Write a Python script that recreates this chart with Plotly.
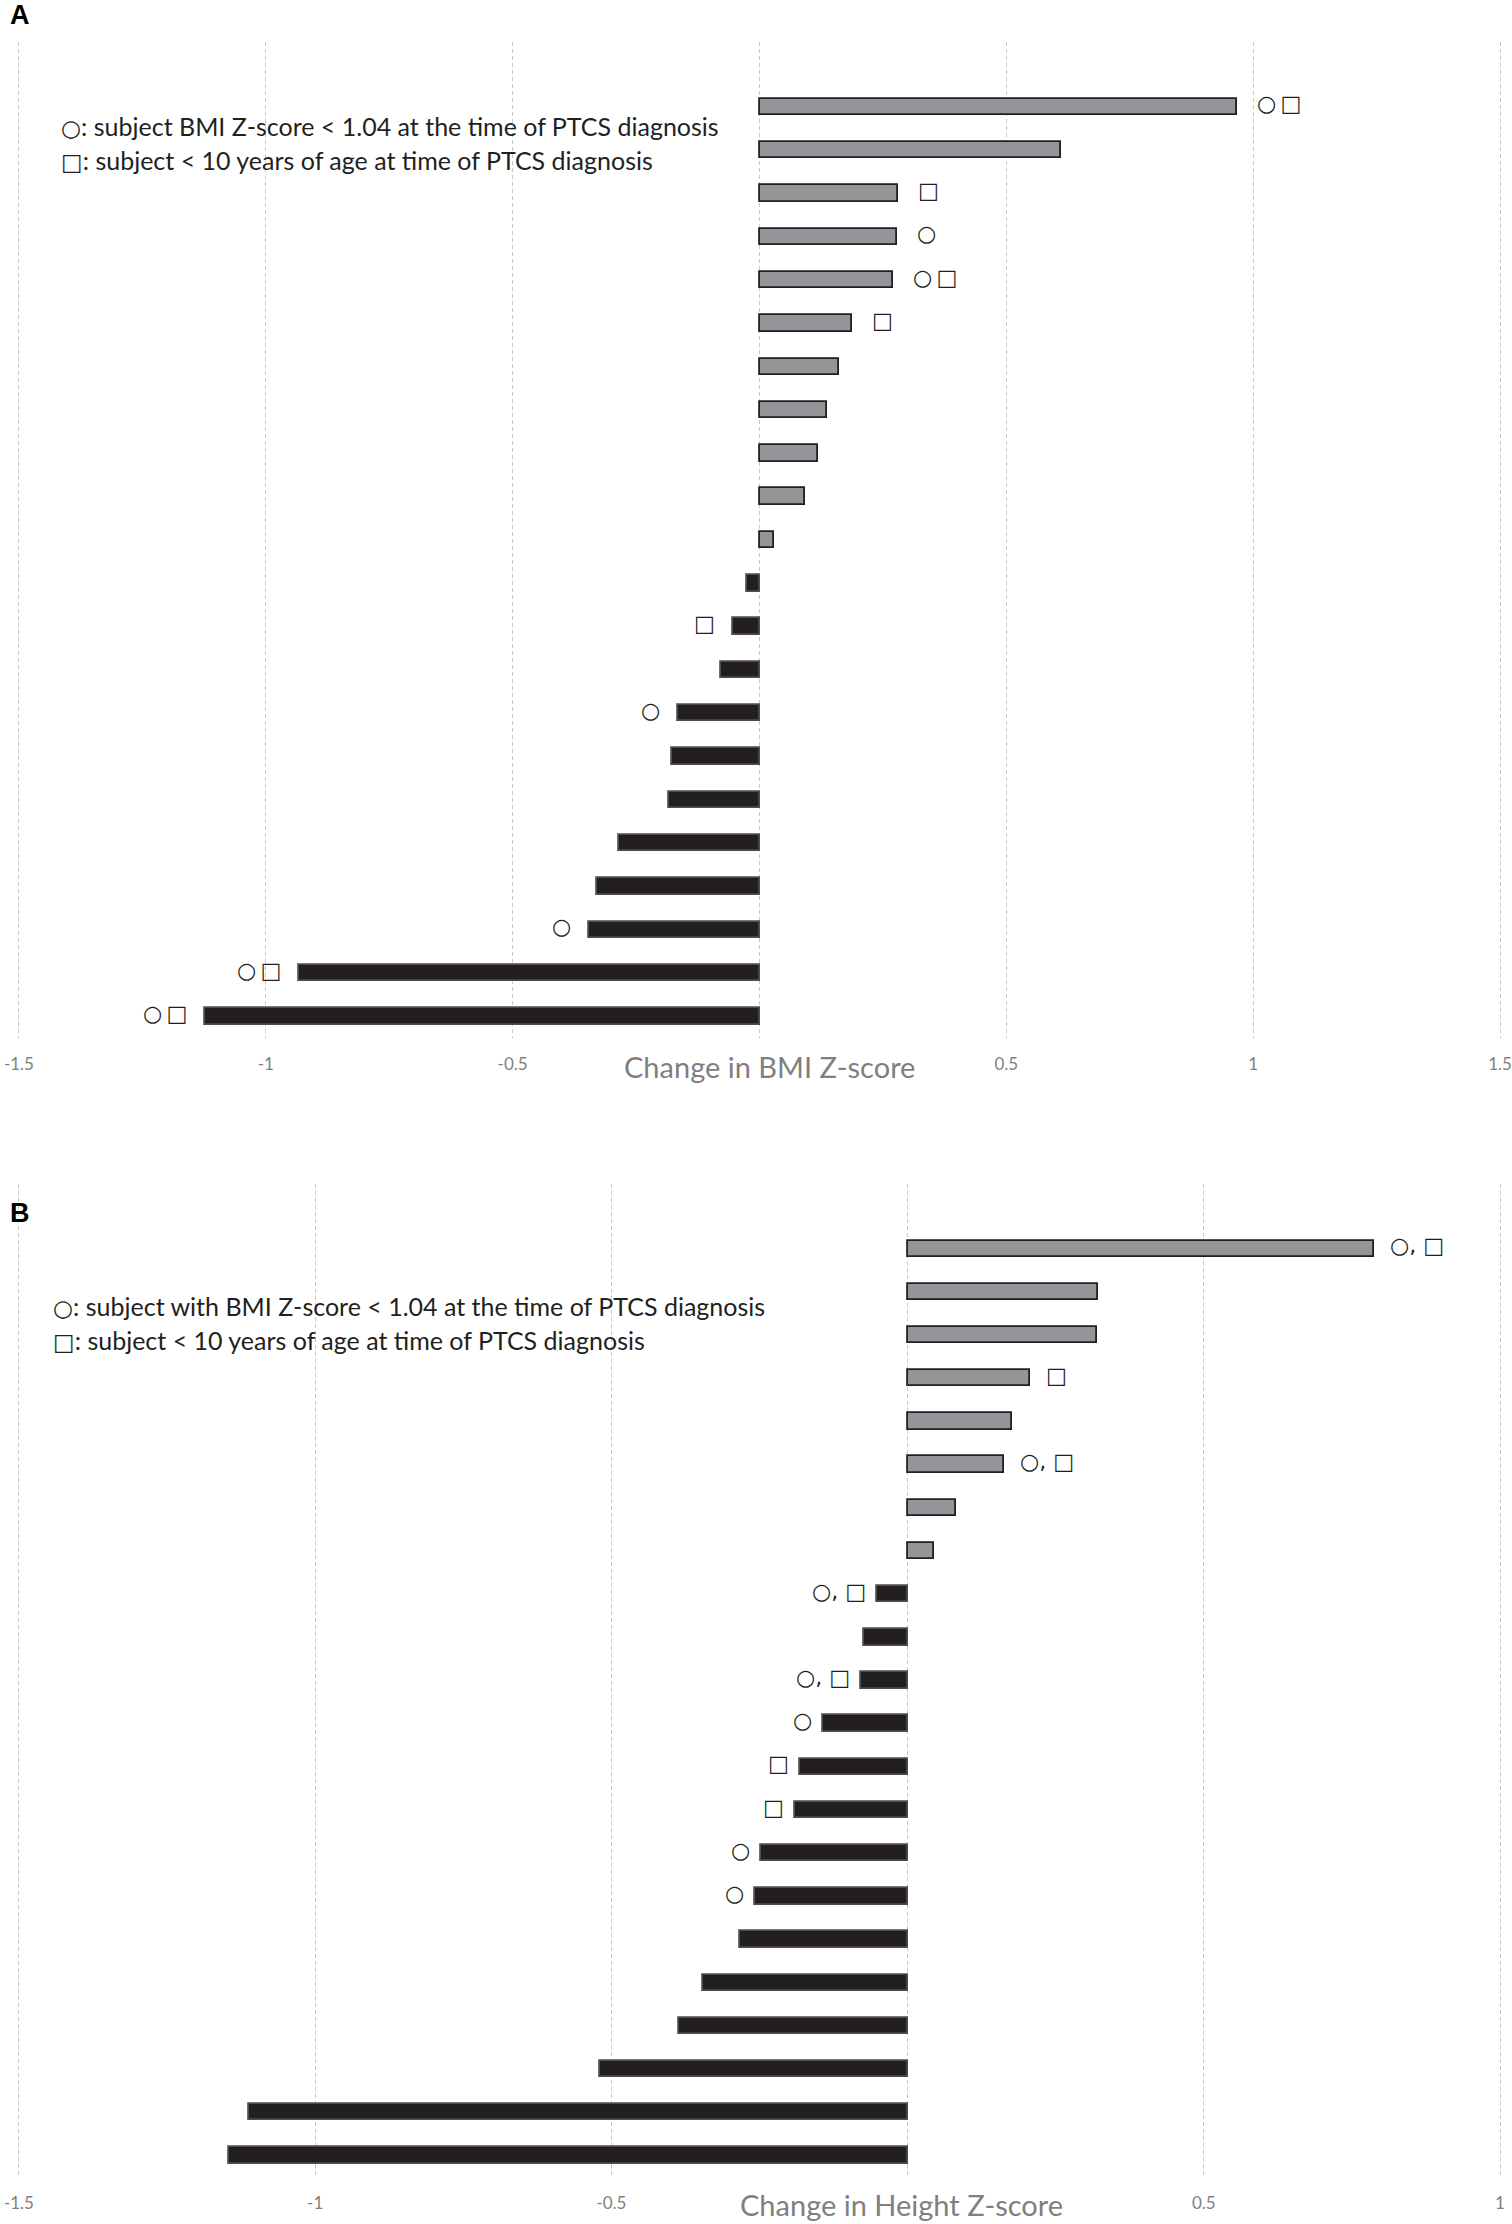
import plotly.graph_objects as go

# Panel A: change in BMI Z-score per subject (top to bottom)
bmi_change = [0.967, 0.610, 0.280, 0.279, 0.270, 0.187, 0.162, 0.136, 0.119, 0.093, 0.029,
              -0.025, -0.053, -0.079, -0.165, -0.177, -0.184, -0.285, -0.329, -0.345, -0.932, -1.123]
bmi_flags = ["○□", "", "□", "○", "○□", "□", "", "", "", "", "",
             "", "□", "", "○", "", "", "", "", "○", "○□", "○□"]

# Panel B: change in height Z-score per subject (top to bottom)
height_change = [0.788, 0.321, 0.319, 0.207, 0.176, 0.162, 0.081, 0.045, -0.052, -0.074, -0.079,
                 -0.143, -0.181, -0.190, -0.248, -0.257, -0.283, -0.345, -0.386, -0.519, -1.112, -1.145]
height_flags = ["○□", "", "", "□", "", "○□", "", "", "○□", "", "○□",
                "○", "□", "□", "○", "○", "", "", "", "", "", ""]

bmi_ticks = [-1.5, -1, -0.5, 0, 0.5, 1, 1.5]
bmi_ticktext = ["-1.5", "-1", "-0.5", "", "0.5", "1", "1.5"]
height_ticks = [-1.5, -1, -0.5, 0, 0.5, 1]
height_ticktext = ["-1.5", "-1", "-0.5", "", "0.5", "1"]

legend_a = [("○", ": subject BMI Z-score < 1.04 at the time of PTCS diagnosis"),
            ("□", ": subject < 10 years of age at time of PTCS diagnosis")]
legend_b = [("○", ": subject with BMI Z-score < 1.04 at the time of PTCS diagnosis"),
            ("□", ": subject < 10 years of age at time of PTCS diagnosis")]

W, H = 1512, 2224
ML, MR = 15, 0
POS_FILL, NEG_FILL, EDGE = "#939598", "#231f20", "#231f20"
GRAY = "#7f7f7f"
FONT = "Lato"
SYM = "DejaVu Sans"


def px_x(x):
    return (x - ML) / (W - ML - MR)


def px_y(y):
    return 1 - y / H


fig = go.Figure()
annotations = []


def add_panel(values, flags, sep, xa, ya, pos_shift, neg_shift):
    n = len(values)
    fills = [POS_FILL if v >= 0 else NEG_FILL for v in values]
    edges = [EDGE if v >= 0 else "#4d4d4f" for v in values]
    fig.add_trace(
        go.Bar(
            x=values,
            y=list(range(n)),
            orientation="h",
            width=0.38,
            marker=dict(color=fills, line=dict(color=edges, width=1.8)),
            xaxis=xa,
            yaxis=ya,
            showlegend=False,
            hoverinfo="x",
        )
    )
    for i, (v, f) in enumerate(zip(values, flags)):
        if not f:
            continue
        annotations.append(dict(
            x=v, y=i, xref=xa, yref=ya, text=sep.join(f), showarrow=False,
            xanchor="left" if v >= 0 else "right",
            xshift=pos_shift if v >= 0 else neg_shift, yshift=3,
            font=dict(family=SYM, size=22, color="#231f20"),
        ))


add_panel(bmi_change, bmi_flags, "\u2009", "x", "y", 18, -16)
add_panel(height_change, height_flags, ", ", "x2", "y2", 14, -9)

axis_common = dict(
    showgrid=True, gridcolor="#c8c8c8", griddash="4px,3px", gridwidth=1,
    zeroline=False, showline=False, ticks="", automargin=False,
    tickfont=dict(family=FONT, size=17, color=GRAY),
    ticklabelstandoff=14, ticklabeloverflow="allow", tickmode="array",
)
yaxis_common = dict(range=[21.5, -1.5], showgrid=False, zeroline=False, automargin=False,
                    showticklabels=False, showline=False, ticks="")

fig.update_layout(
    width=W, height=H,
    margin=dict(l=ML, r=MR, t=0, b=0, autoexpand=False),
    plot_bgcolor="white", paper_bgcolor="white",
    bargap=0,
    # ranges padded a hair so the edge grid lines at -1.5 / 1.5 / 1 still get drawn
    xaxis=dict(domain=[px_x(16), px_x(1503)], range=[-1.506, 1.506],
               tickvals=bmi_ticks, ticktext=bmi_ticktext, anchor="y", **axis_common),
    yaxis=dict(domain=[px_y(1038), px_y(42)], anchor="x", **yaxis_common),
    xaxis2=dict(domain=[px_x(16), px_x(1503)], range=[-1.505, 1.005],
                tickvals=height_ticks, ticktext=height_ticktext, anchor="y2", **axis_common),
    yaxis2=dict(domain=[px_y(2177), px_y(1184)], anchor="x2", **yaxis_common),
)

# panel letters
for letter, y in [("A", 15), ("B", 1213)]:
    annotations.append(dict(x=px_x(8), y=px_y(y), xref="paper", yref="paper",
                            text="<b>%s</b>" % letter, showarrow=False,
                            xanchor="left", yanchor="middle",
                            font=dict(family="Liberation Sans", size=27, color="black")))


def legend_line(sym, rest):
    return ('<span style="font-family:%s;font-size:23px">%s</span>%s' % (SYM, sym, rest))


# legends
for (sym, rest), y in zip(legend_a, [126, 160]):
    annotations.append(dict(x=px_x(59), y=px_y(y), xref="paper", yref="paper",
                            text=legend_line(sym, rest),
                            showarrow=False, xanchor="left", yanchor="middle",
                            font=dict(family=FONT, size=25, color="#231f20")))
for (sym, rest), y in zip(legend_b, [1306, 1340]):
    annotations.append(dict(x=px_x(51), y=px_y(y), xref="paper", yref="paper",
                            text=legend_line(sym, rest),
                            showarrow=False, xanchor="left", yanchor="middle",
                            font=dict(family=FONT, size=25, color="#231f20")))

# axis titles sit on the tick label row, in place of the 0 label
annotations.append(dict(x=0, y=px_y(1066), xref="x", yref="paper", text="Change in BMI Z-score",
                        showarrow=False, xanchor="center", yanchor="middle", xshift=10,
                        font=dict(family=FONT, size=29, color=GRAY)))
annotations.append(dict(x=0, y=px_y(2204), xref="x2", yref="paper", text="Change in Height Z-score",
                        showarrow=False, xanchor="center", yanchor="middle", xshift=-6,
                        font=dict(family=FONT, size=29, color=GRAY)))

fig.update_layout(annotations=annotations)

fig.write_html("out.html", config={"displayModeBar": False},
               post_script="document.body.style.margin='0px';")
